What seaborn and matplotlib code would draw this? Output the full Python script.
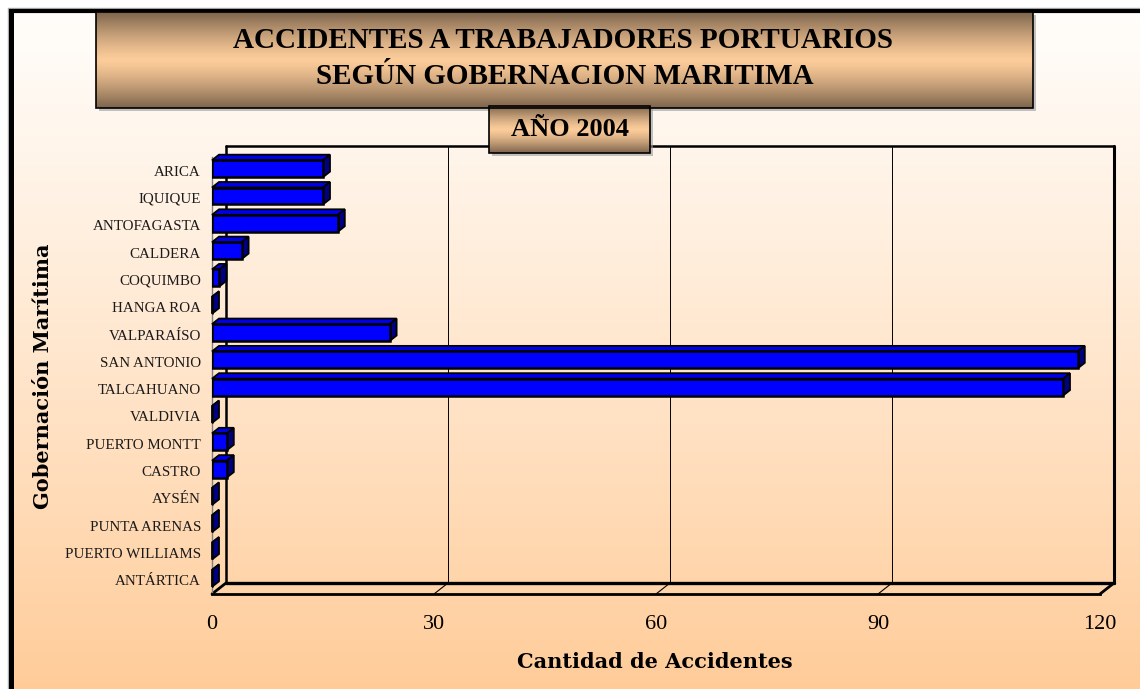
import numpy as np
import matplotlib
matplotlib.use("Agg")
import matplotlib.pyplot as plt
from matplotlib.patches import Rectangle, Polygon
import seaborn as sns

# data
regions = ["ARICA", "IQUIQUE", "ANTOFAGASTA", "CALDERA", "COQUIMBO", "HANGA ROA",
           "VALPARAÍSO", "SAN ANTONIO", "TALCAHUANO", "VALDIVIA", "PUERTO MONTT",
           "CASTRO", "AYSÉN", "PUNTA ARENAS", "PUERTO WILLIAMS", "ANTÁRTICA"]
accidents = [15, 15, 17, 4, 1, 0, 24, 117, 115, 0, 2, 2, 0, 0, 0, 0]
x_ticks = [0, 30, 60, 90, 120]

title_lines = ["ACCIDENTES A TRABAJADORES PORTUARIOS", "SEGÚN GOBERNACION MARITIMA"]
subtitle = "AÑO 2004"
x_label = "Cantidad de Accidentes"
y_label = "Gobernación Marítima"

sns.set_style("white")
plt.rcParams["font.family"] = ["Liberation Serif", "DejaVu Serif"]
plt.rcParams["text.color"] = "black"
plt.rcParams["xtick.color"] = "black"
plt.rcParams["ytick.color"] = "black"

W, H = 1140, 689
fig = plt.figure(figsize=(W / 100, H / 100), dpi=100)

# background gradient + border, drawn in pixel coords
bg = fig.add_axes([0, 0, 1, 1], zorder=-10)
bg.set_xlim(0, W)
bg.set_ylim(H, 0)
bg.axis("off")
t = np.linspace(0, 1, 300)[:, None, None] ** 1.15
top_c = np.array([255, 253, 250]) / 255
bot_c = np.array([255, 204, 153]) / 255
bg.imshow(top_c * (1 - t) + bot_c * t, extent=(10, W, H, 10), aspect="auto")
bg.plot([8, 8], [H, 8], color="#b0b0b0", lw=1)
bg.plot([8, W], [8, 8], color="#b0b0b0", lw=1)
bg.plot([10.5, 10.5], [H, 11], color="black", lw=3.6, solid_capstyle="projecting")
bg.plot([10.5, W], [11, 11], color="black", lw=3.0, solid_capstyle="projecting")

# main (front) axes
ax_l, ax_r, ax_t, ax_b = 212, 1100, 157, 594
ax = fig.add_axes([ax_l / W, 1 - ax_b / H, (ax_r - ax_l) / W, (ax_b - ax_t) / H])
ax.patch.set_alpha(0)

sns.barplot(x=accidents, y=regions, orient="h", color="#0000FF", saturation=1,
            edgecolor="black", linewidth=1.8, width=0.62, ax=ax, zorder=5)

ax.set_xlim(0, 120)
ax.set_ylim(15.5, -0.5)

# pixel -> data helpers
ppx = (ax_r - ax_l) / 120.0
ppy = (ax_b - ax_t) / 16.0
wall_dx, wall_dy = 14 / ppx, 11 / ppy
bar_dx, bar_dy = 7 / ppx, 5.5 / ppy

# back wall, gridlines and floor
kw = dict(color="black", clip_on=False, zorder=1)
ax.plot([wall_dx, wall_dx], [15.5 - wall_dy, -0.5 - wall_dy], lw=1.8, **kw)
ax.plot([wall_dx, 120 + wall_dx], [-0.5 - wall_dy] * 2, lw=1.8, **kw)
ax.plot([120 + wall_dx] * 2, [-0.5 - wall_dy, 15.5 - wall_dy], lw=2.2, **kw)
ax.plot([wall_dx, 120 + wall_dx], [15.5 - wall_dy] * 2, lw=2.4, **kw)
for v in x_ticks[1:-1]:
    ax.plot([v + wall_dx] * 2, [-0.5 - wall_dy, 15.5 - wall_dy], lw=0.7, **kw)
for v in x_ticks:
    ax.plot([v, v + wall_dx], [15.5, 15.5 - wall_dy],
            lw=2.0 if v in (0, 120) else 0.8, **kw)

# 3d faces of the bars (shifted up a touch like the original)
shift = 2 / ppy
for p in ax.patches:
    p.set_y(p.get_y() - shift)
    x0, y0, w, h = p.get_x(), p.get_y(), p.get_width(), p.get_height()
    top = Polygon([(x0, y0), (x0 + w, y0), (x0 + w + bar_dx, y0 - bar_dy), (x0 + bar_dx, y0 - bar_dy)],
                  closed=True, facecolor="#0000E8", edgecolor="black", lw=1.3, zorder=4, clip_on=False)
    side = Polygon([(x0 + w, y0), (x0 + w + bar_dx, y0 - bar_dy),
                    (x0 + w + bar_dx, y0 + h - bar_dy), (x0 + w, y0 + h)],
                   closed=True, facecolor="#000080", edgecolor="black", lw=1.3, zorder=4, clip_on=False)
    ax.add_patch(top)
    ax.add_patch(side)

# spines and ticks
for s in ["top", "right"]:
    ax.spines[s].set_visible(False)
ax.spines["left"].set_color("#808080")
ax.spines["left"].set_linewidth(1)
ax.spines["bottom"].set_color("black")
ax.spines["bottom"].set_linewidth(2.0)
ax.spines["bottom"].set_zorder(6)

ax.set_xticks(x_ticks)
ax.set_xticklabels([str(v) for v in x_ticks], fontsize=16)
ax.tick_params(axis="x", direction="out", length=7, width=1, color="#606060", pad=8)
ax.set_yticks(np.arange(-0.5, 16, 1), minor=True)
ax.tick_params(axis="y", which="minor", direction="out", length=5, width=1, color="#808080")
ax.tick_params(axis="y", which="major", length=0, pad=8, labelsize=10.8, labelcolor="#1a1a1a")
ax.set_xlabel("")
ax.set_ylabel("")
ax.grid(False)

fig.text(655 / W, 1 - 662 / H, x_label, ha="center", va="center", fontsize=15,
         fontweight="bold", family="DejaVu Serif")
fig.text(43 / W, 1 - 376 / H, y_label, ha="center", va="center", fontsize=15,
         fontweight="bold", family="DejaVu Serif", rotation=90)

# title boxes on top
ov = fig.add_axes([0, 0, 1, 1], zorder=20)
ov.set_xlim(0, W)
ov.set_ylim(H, 0)
ov.axis("off")
ov.patch.set_alpha(0)

edge_c = np.array([125, 100, 76]) / 255
mid_c = np.array([252, 204, 154]) / 255
tt = np.linspace(0, 1, 200)[:, None, None]
mix = np.abs(2 * tt - 1) ** 1.3
box_img = mid_c * (1 - mix) + edge_c * mix


def gradient_box(x0, y0, x1, y1):
    ov.add_patch(Rectangle((x0 + 3, y0 + 3), x1 - x0, y1 - y0, facecolor="#9a9a9a",
                           edgecolor="none", alpha=0.6, zorder=1))
    ov.imshow(box_img, extent=(x0, x1, y1, y0), aspect="auto", zorder=2)
    ov.add_patch(Rectangle((x0, y0), x1 - x0, y1 - y0, facecolor="none",
                           edgecolor="black", lw=1.2, zorder=3))


gradient_box(96, 12, 1033, 108)
ov.text(563, 41, title_lines[0], ha="center", va="center", fontsize=21, fontweight="bold", zorder=5)
ov.text(565, 76, title_lines[1], ha="center", va="center", fontsize=21, fontweight="bold", zorder=5)
gradient_box(489, 106, 650, 153)
ov.text(570, 130, subtitle, ha="center", va="center", fontsize=19, fontweight="bold", zorder=5)
ov.set_xlim(0, W)
ov.set_ylim(H, 0)

fig.savefig("out.png", dpi=100)
